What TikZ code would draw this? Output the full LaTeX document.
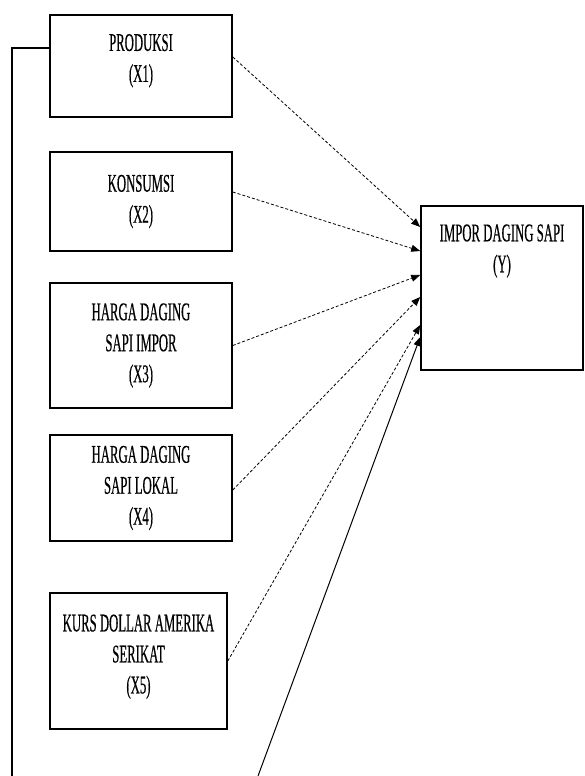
\documentclass[tikz,border=0pt]{standalone}
\usepackage{fontspec}
\setmainfont{Liberation Serif}[FakeStretch=0.5, FakeBold=0.4]
\usetikzlibrary{arrows.meta,positioning}

\begin{document}
\begin{tikzpicture}[x=1pt, y=-1pt,
  box/.style={draw, line width=1.6pt, align=center, minimum width=182pt, inner sep=0pt, font=\fontsize{25.5}{31}\selectfont},
  lbl/.style={align=center, inner sep=0pt, font=\fontsize{25.5}{31}\selectfont},
  dasharrow/.style={-{Triangle[length=9pt, width=7pt]}, line width=0.8pt, dash pattern=on 3pt off 2pt},
  solidarrow/.style={-{Triangle[length=9pt, width=7pt]}, line width=1pt},
  link/.style={line width=1.2pt}
]
\useasboundingbox (0,0) rectangle (585,776);

\node[box, minimum height=102pt, text depth=16pt] (prod) at (141,66) {PRODUKSI\\(X1)};
\node[box, minimum height=99pt] (kons) at (141,201.5) {KONSUMSI\\(X2)};
\node[box, minimum height=125pt] (hdsi) at (141,345.5) {HARGA DAGING\\SAPI IMPOR\\(X3)};
\node[box, minimum height=106pt] (hdsl) at (141,488) {HARGA DAGING\\SAPI LOKAL\\(X4)};
\node[box, minimum width=177pt, minimum height=136pt, text depth=14pt] (kurs) at (138.5,661) {KURS DOLLAR AMERIKA\\SERIKAT\\(X5)};
\node[box, minimum width=162pt, minimum height=164pt,
  label={[lbl, anchor=north, yshift=-19pt]north:IMPOR DAGING SAPI\\(Y)}] (impor) at (502,288) {};

\coordinate (leftend) at (12,776);
\coordinate (bottomend) at (258,776);

\draw[dasharrow] ([yshift=9pt]prod.east) -- ([yshift=61pt]impor.west);
\draw[dasharrow] ([yshift=9.5pt]kons.east) -- ([yshift=37pt]impor.west);
\draw[dasharrow] (hdsi.east) -- ([yshift=13pt]impor.west);
\draw[dasharrow] ([yshift=-2pt]hdsl.east) -- ([yshift=-9pt]impor.west);
\draw[dasharrow] (kurs.east) -- ([yshift=-37pt]impor.west);
\draw[solidarrow] (bottomend) -- ([yshift=-49pt]impor.west);
\draw[link] ([yshift=18pt]prod.west) -| (leftend);
\end{tikzpicture}
\end{document}
